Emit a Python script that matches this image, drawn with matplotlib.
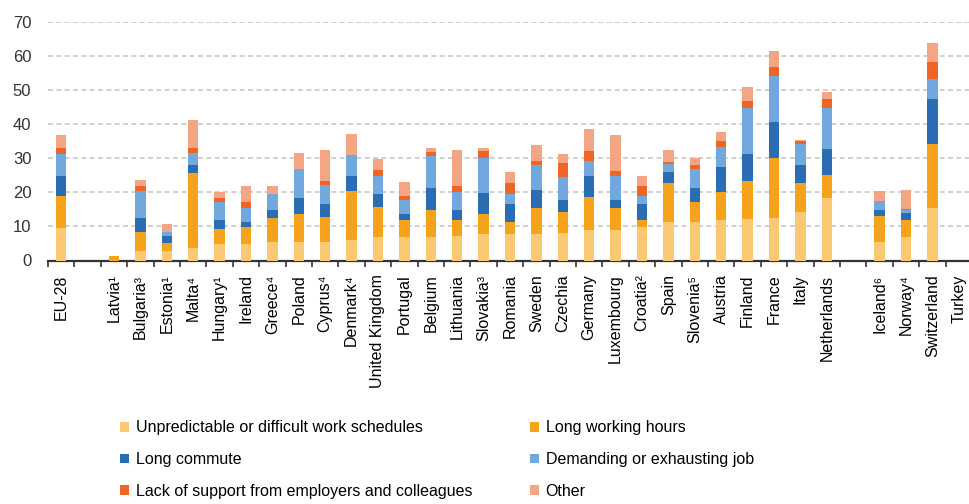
import numpy as np
import matplotlib
matplotlib.use("Agg")
import matplotlib.pyplot as plt

plt.rcParams['font.family'] = ['Liberation Sans', 'DejaVu Sans']

# categories ('' = empty gap slot)
countries = ['EU-28', '', 'Latvia¹', 'Bulgaria³', 'Estonia¹', 'Malta⁴', 'Hungary¹',
             'Ireland', 'Greece⁴', 'Poland', 'Cyprus⁴', 'Denmark⁴', 'United Kingdom',
             'Portugal', 'Belgium', 'Lithuania', 'Slovakia³', 'Romania', 'Sweden',
             'Czechia', 'Germany', 'Luxembourg', 'Croatia²', 'Spain', 'Slovenia⁵',
             'Austria', 'Finland', 'France', 'Italy', 'Netherlands', '',
             'Iceland⁶', 'Norway⁴', 'Switzerland', 'Turkey']

# cumulative tops (%), per reason
top_sched = [9.5, 0, 0, 2.8, 2.8, 3.6, 4.8, 4.8, 5.4, 5.4, 5.4, 6.0, 7.0, 7.0, 7.0, 7.2, 7.7, 7.7,
             7.7, 8.2, 9.0, 9.0, 9.8, 11.2, 11.2, 11.8, 12.2, 12.4, 14.1, 18.2, 0, 5.4, 6.8, 15.4, 0]
top_hours = [19.0, 0, 1.3, 8.3, 5.1, 25.7, 9.2, 9.7, 12.4, 13.7, 12.9, 20.3, 15.7, 11.9, 14.9, 11.9, 13.6, 11.3,
             15.4, 14.1, 18.6, 15.4, 11.8, 22.8, 17.1, 20.1, 23.3, 30.1, 22.8, 25.2, 0, 13.2, 11.8, 34.1, 0]
top_commute = [24.9, 0, 1.3, 12.4, 7.2, 27.9, 11.9, 11.4, 14.9, 18.3, 16.7, 24.9, 19.6, 13.7, 21.3, 14.9, 19.8, 16.7,
               20.8, 17.8, 24.9, 17.8, 16.7, 26.0, 21.3, 27.4, 31.4, 40.7, 27.9, 32.6, 0, 14.7, 13.9, 47.3, 0]
top_demand = [31.4, 0, 1.3, 20.3, 8.5, 31.6, 17.1, 15.4, 19.6, 26.9, 22.1, 30.9, 24.9, 17.7, 30.6, 20.0, 30.1, 19.6,
              27.9, 24.5, 29.2, 24.9, 19.0, 28.2, 27.0, 33.3, 44.9, 54.2, 34.1, 44.7, 0, 17.4, 14.9, 53.4, 0]
top_support = [33.1, 0, 1.3, 22.0, 8.5, 33.1, 18.3, 17.2, 19.6, 26.9, 23.3, 30.9, 26.7, 19.0, 31.9, 22.0, 32.1, 22.6,
               29.2, 28.5, 32.1, 26.2, 22.0, 28.9, 27.9, 35.1, 46.9, 56.7, 35.1, 47.3, 0, 17.4, 15.2, 58.4, 0]
top_other = [36.7, 0, 1.3, 23.7, 10.7, 41.1, 20.2, 21.8, 21.8, 31.6, 32.4, 37.0, 29.9, 23.0, 33.1, 32.4, 32.9, 25.9,
             33.8, 31.3, 38.7, 36.7, 24.9, 32.4, 30.1, 37.8, 51.0, 61.4, 35.5, 49.6, 0, 20.3, 20.8, 63.9, 0]

labels = ['Unpredictable or difficult work schedules', 'Long working hours',
          'Long commute', 'Demanding or exhausting job',
          'Lack of support from employers and colleagues', 'Other']
colors = ['#FBC974', '#F7A21B', '#2B6DB3', '#71A9DE', '#EE6526', '#F4A583']

tops = np.array([top_sched, top_hours, top_commute, top_demand, top_support, top_other])
bottoms = np.vstack([np.zeros(len(countries)), tops[:-1]])

fig = plt.figure(figsize=(9.7, 5.04), dpi=100)
ax = fig.add_axes([48 / 970, 1 - 260.5 / 504, 924 / 970, (260.5 - 22) / 504])

x = np.arange(len(countries))
bars = []
for i in range(6):
    b = ax.bar(x, tops[i] - bottoms[i], bottom=bottoms[i], width=0.4,
               color=colors[i], label=labels[i], zorder=3)
    bars.append(b)

ax.set_xlim(-0.5, len(countries) - 0.5)
ax.set_ylim(0, 70)
ax.set_yticks(np.arange(0, 71, 10))
ax.tick_params(axis='y', length=0, labelsize=12, labelcolor='#333333', pad=12)
ax.yaxis.grid(True, linestyle=(0, (3, 2)), color='#C8C8C8', linewidth=1.2, zorder=0)

ax.set_xticks(x)
ax.set_xticklabels(countries, rotation=90, fontsize=11.5)
ax.set_xticks(np.arange(-0.5, len(countries)), minor=True)
ax.tick_params(axis='x', which='major', length=0, pad=10)
ax.tick_params(axis='x', which='minor', length=4, width=1.2, color='#333333', direction='out')

for s in ['left', 'right', 'top']:
    ax.spines[s].set_visible(False)
ax.spines['bottom'].set_linewidth(1.6)
ax.spines['bottom'].set_color('#333333')

# legend filled row by row like the original (2 columns)
order = [0, 2, 4, 1, 3, 5]
fig.legend([bars[i] for i in order], [labels[i] for i in order],
           loc='upper left', bbox_to_anchor=(106 / 970, 1 - 406 / 504), ncol=2,
           frameon=False, fontsize=11.5, handlelength=0.55, handleheight=0.55,
           handletextpad=0.4, columnspacing=3.65, labelspacing=1.05)

fig.savefig('out.png', dpi=100)
